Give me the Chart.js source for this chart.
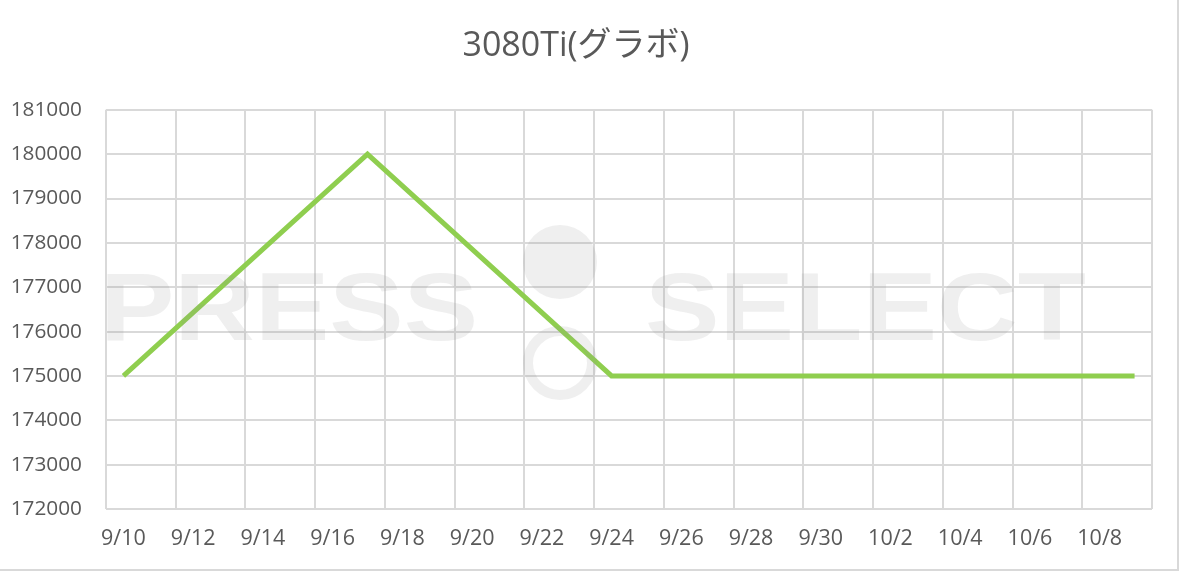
<!DOCTYPE html>
<html>
<head>
<meta charset="utf-8">
<script src="https://cdn.jsdelivr.net/npm/chart.js@4/dist/chart.umd.min.js"></script>
<style>
  html, body { margin: 0; padding: 0; background: #fff; }
  #wrap { position: absolute; left: 0; top: 0; width: 1177px; height: 569px;
          border-right: 2px solid #d9d9d9; border-bottom: 2px solid #d9d9d9; }
</style>
</head>
<body>
<div id="wrap"><canvas id="chartGpu"></canvas></div>
<script>
// --- data ---
const days = [
  '9/10', '9/11', '9/12', '9/13', '9/14', '9/15', '9/16', '9/17', '9/18', '9/19',
  '9/20', '9/21', '9/22', '9/23', '9/24', '9/25', '9/26', '9/27', '9/28', '9/29',
  '9/30', '10/1', '10/2', '10/3', '10/4', '10/5', '10/6', '10/7', '10/8', '10/9'
];
// only the days with a recorded price; the rest are gaps joined by the line
const prices = [
  175000, null, null, null, null, null, null, 180000, null, null,
  null, null, null, null, 175000, null, null, null, null, null,
  null, null, null, null, null, null, null, null, null, 175000
];
const yMin = 172000;
const yMax = 181000;
const yStep = 1000;

const gridGray = '#d9d9d9';
const textGray = '#595959';

// faint "PRESS SELECT" watermark on top of the plot
const watermark = {
  id: 'watermark',
  afterDraw(chart) {
    const ctx = chart.ctx;
    ctx.save();
    ctx.fillStyle = 'rgba(150,150,150,0.15)';
    ctx.strokeStyle = 'rgba(150,150,150,0.15)';
    ctx.font = 'bold 97px "Liberation Sans"';
    ctx.textBaseline = 'alphabetic';
    const word = (txt, x0, x1, base) => {
      const w = ctx.measureText(txt).width;
      ctx.save();
      ctx.translate(x0, base);
      ctx.scale((x1 - x0) / w, 1);
      ctx.fillText(txt, 0, 0);
      ctx.restore();
    };
    word('PRESS', 100, 478, 340);
    word('SELECT', 645, 1086, 340);
    ctx.beginPath();
    ctx.arc(560, 262, 37, 0, Math.PI * 2);
    ctx.fill();
    ctx.lineWidth = 10;
    ctx.beginPath();
    ctx.arc(560, 363, 32, 0, Math.PI * 2);
    ctx.stroke();
    ctx.restore();
  }
};

const ctxGpu = document.getElementById('chartGpu').getContext('2d');
new Chart(ctxGpu, {
  type: 'line',
  data: {
    labels: days,
    datasets: [{
      label: '3080Ti',
      data: prices,
      borderColor: '#8fce4f',
      borderWidth: 5,
      pointRadius: 0,
      spanGaps: true,
      tension: 0,
      borderJoinStyle: 'miter',
      fill: false
    }]
  },
  options: {
    responsive: true,
    maintainAspectRatio: false,
    animation: false,
    layout: { padding: { left: 0, right: 25, top: 0, bottom: 0 } },
    plugins: {
      legend: { display: false },
      tooltip: { enabled: false },
      title: {
        display: true,
        text: '3080Ti(グラボ)',
        color: textGray,
        font: { family: '"Open Sans", "Noto Sans CJK JP", sans-serif', size: 34, weight: 'normal', lineHeight: 1.2 },
        padding: { top: 26, bottom: 43 }
      }
    },
    scales: {
      x: {
        offset: true,
        grid: {
          offset: true,
          drawTicks: false,
          lineWidth: 2,
          color: (c) => (c.index === undefined || c.index % 2 === 0) ? gridGray : 'rgba(0,0,0,0)'
        },
        border: { display: false },
        ticks: {
          autoSkip: false,
          maxRotation: 0,
          padding: 17,
          color: textGray,
          font: { family: '"Open Sans", sans-serif', size: 21.5 },
          callback: function (value, index) {
            return index % 2 === 0 ? this.getLabelForValue(value) : '';
          }
        },
        afterFit: (s) => { s.height = 60; }
      },
      y: {
        min: yMin,
        max: yMax,
        grid: { drawTicks: false, lineWidth: 2, color: gridGray },
        border: { display: false },
        ticks: {
          stepSize: yStep,
          padding: 24,
          color: textGray,
          font: { family: '"Open Sans", sans-serif', size: 20.8 },
          callback: (v) => String(v)
        },
        afterFit: (s) => { s.width = 106; }
      }
    }
  },
  plugins: [watermark]
});
</script>
</body>
</html>
